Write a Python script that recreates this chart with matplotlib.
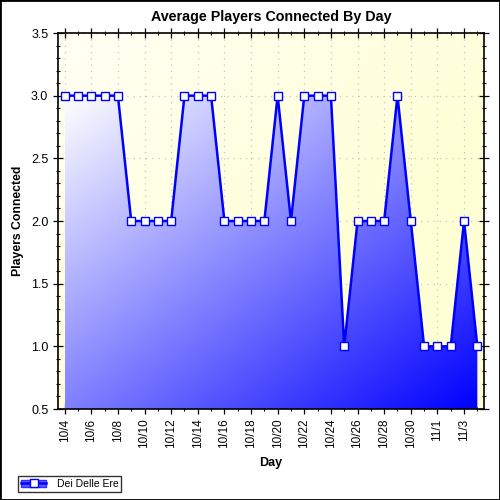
import matplotlib
matplotlib.use("Agg")
import matplotlib.pyplot as plt
import numpy as np
from matplotlib.patches import Rectangle, Patch
from matplotlib.lines import Line2D
from matplotlib.ticker import MultipleLocator

plt.rcParams['font.family'] = ['Liberation Sans', 'DejaVu Sans']

days = ["10/4", "10/5", "10/6", "10/7", "10/8", "10/9", "10/10", "10/11",
        "10/12", "10/13", "10/14", "10/15", "10/16", "10/17", "10/18", "10/19",
        "10/20", "10/21", "10/22", "10/23", "10/24", "10/25", "10/26", "10/27",
        "10/28", "10/29", "10/30", "10/31", "11/1", "11/2", "11/3", "11/4"]
players = [3, 3, 3, 3, 3, 2, 2, 2, 2, 3, 3, 3, 2, 2, 2, 2,
           3, 2, 3, 3, 3, 1, 2, 2, 2, 3, 2, 1, 1, 1, 2, 1]
series_name = "Dei Delle Ere"

x = np.arange(len(days))
y = np.array(players, dtype=float)
ymin, ymax = 0.5, 3.5

fig = plt.figure(figsize=(5, 5), dpi=100)
fig.patches.append(Rectangle((0, 0), 1, 1, transform=fig.transFigure,
                             fill=False, edgecolor="black", linewidth=2))
ax = fig.add_axes([58/500, 1-409/500, (484-58)/500, (409-33)/500])
ax.set_xlim(-0.5, len(days) - 0.5)
ax.set_ylim(ymin, ymax)
ax.set_axisbelow(True)

# yellowish background gradient
gx, gy = np.meshgrid(np.linspace(0, 1, 200), np.linspace(1, 0, 200))
t = np.clip((gx + (1 - gy)) / 2 * 1.6, 0, 1)
bg = np.dstack([np.ones_like(t), np.ones_like(t), 0.96 - 0.12 * t])
ax.imshow(bg, extent=[-0.5, len(days) - 0.5, ymin, ymax], aspect="auto",
          zorder=0, interpolation="bilinear")

# area fill with white -> blue gradient
poly = ax.fill_between(x, y, ymin, facecolor="none", edgecolor="none", zorder=1)
t2 = (gx + (1 - gy)) / 2
fill = np.dstack([1 - t2, 1 - t2, np.ones_like(t2)])
im = ax.imshow(fill, extent=[0, len(days) - 1, ymin, 3.0], aspect="auto",
               zorder=1, interpolation="bilinear")
im.set_clip_path(poly.get_paths()[0], transform=ax.transData)

ax.grid(True, which="major", color="#c4c4c4", linestyle=(0, (1, 4)), linewidth=0.9)

ax.plot(x, y, color="#0000ff", linewidth=1.8, marker="s", markersize=5.5,
        markerfacecolor="white", markeredgecolor="#0000ff", markeredgewidth=1,
        zorder=3, clip_on=False)

ax.set_xticks(x[::2])
ax.set_xticklabels(days[::2], rotation=90, fontsize=8.5)
ax.xaxis.set_minor_locator(MultipleLocator(1))
ax.yaxis.set_major_locator(MultipleLocator(0.5))
ax.yaxis.set_minor_locator(MultipleLocator(0.1))
ax.set_yticklabels([f"{v:.1f}" for v in ax.get_yticks()], fontsize=9)
ax.tick_params(which="major", direction="inout", length=7, width=0.9,
               top=True, right=True)
ax.tick_params(which="minor", direction="inout", length=3.5, width=0.8,
               top=True, right=True)
for s in ax.spines.values():
    s.set_linewidth(1.2)

ax.set_title("Average Players Connected By Day", fontsize=10.3,
             fontweight="bold", pad=9)
ax.set_xlabel("Day", fontsize=9, fontweight="bold", labelpad=6)
ax.set_ylabel("Players Connected", fontsize=8.8, fontweight="bold", labelpad=5)

handle = (Patch(facecolor="#5a5aff", edgecolor="#3030ff"),
          Line2D([], [], color="#0000ff", linewidth=1.8, marker="s",
                 markersize=5.5, markerfacecolor="white", markeredgecolor="#0000ff"))
leg = fig.legend([handle], [series_name], loc="lower left",
                 bbox_to_anchor=(18/500, 1-492/500), fontsize=7.5,
                 frameon=True, fancybox=False, handlelength=2.4,
                 borderpad=0.3, handletextpad=1.0, borderaxespad=0)
leg.get_frame().set_edgecolor("black")
leg.get_frame().set_linewidth(1)

plt.savefig("out.png", dpi=100)
